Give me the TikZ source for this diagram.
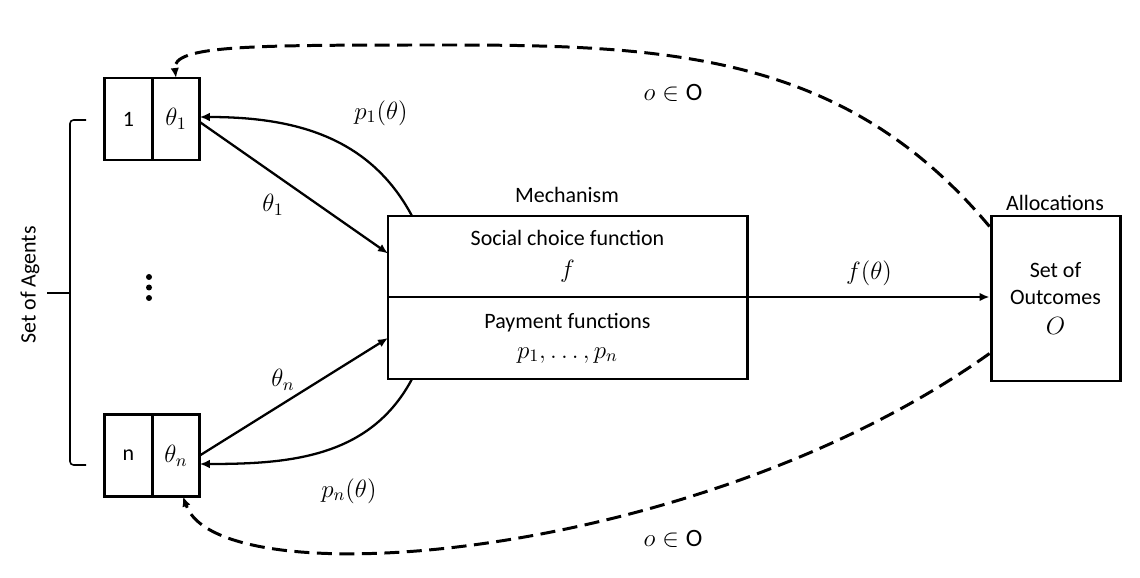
\RequirePackage{fix-cm}
\documentclass[tikz,border=0pt]{standalone}
\usepackage{amsmath,amssymb}
\usepackage{fontspec}
\setmainfont{Carlito}
\usetikzlibrary{positioning,arrows.meta,calc}

\newcommand{\mathlbl}[1]{{\fontsize{14.2}{16}\selectfont$#1$}}

\tikzset{
  cell/.style={draw, line width=1.7pt, minimum width=0.95cm, minimum height=1.64cm, inner sep=0pt, outer sep=0pt},
  mech/.style={draw, line width=1.7pt, minimum width=7.18cm, align=center, inner sep=0pt, outer sep=0pt},
  arr/.style={->, line width=1.3pt},
  dasharr/.style={->, line width=1.7pt, dash pattern=on 0.3cm off 0.15cm},
}

\begin{document}
\begin{tikzpicture}[font=\fontsize{12.5}{15}\selectfont, >={Latex[length=2mm,width=1.7mm]}]
\useasboundingbox (0,0) rectangle (22.8,11.54);
% agents
\node[cell] (c1) at (2.57,9.16) {1};
\node[cell, right=0pt of c1] (t1) {\mathlbl{\theta_1}};
\node[cell] (cn) at (2.57,2.43) {n};
\node[cell, right=0pt of cn] (tn) {\mathlbl{\theta_n}};
\foreach \y in {6.0,5.79,5.58} \fill (2.98,\y) circle (0.06);
% brace
\draw[line width=0.9pt, rounded corners=2pt] (1.72,9.14) -- (1.40,9.14) -- (1.40,2.24) -- (1.72,2.24);
\draw[line width=0.9pt] (0.94,5.68) -- (1.40,5.68);
\node[rotate=90] (agents) at (0.6,5.84) {Set of Agents};
% mechanism
\node (mechlbl) at (11.34,7.65) {Mechanism};
\node[mech, minimum height=1.62cm] (scf) at (11.35,6.41) {Social choice function\\[3pt]\mathlbl{f}};
\node[mech, minimum height=1.64cm, below=0pt of scf] (pay) {Payment functions\\[2pt]\mathlbl{p_1, \ldots, p_n}};
% outcomes
\node (alloclbl) at (21.1,7.48) {Allocations};
\node[draw, line width=1.7pt, minimum width=2.58cm, minimum height=3.3cm, align=center, inner sep=0pt] (out) at (21.11,5.57) {Set of\\Outcomes\\[2pt]\mathlbl{O}};
%
\draw[arr] ($(t1.east)+(0,-0.06)$) -- ($(scf.west)+(0,0.06)$);
\draw[arr] ($(scf.north west)+(0.48,0)$) to[out=118,in=0] ($(t1.east)+(0,0.04)$);
\draw[arr] (tn.east) -- (pay.west);
\draw[arr] ($(pay.south west)+(0.48,0)$) to[out=-118,in=0] ($(tn.east)+(0,-0.17)$);
\draw[arr] (scf.south east) -- (scf.south east -| out.west);
\node (lt1) at (5.46,7.44) {\mathlbl{\theta_1}};
\node (lp1) at (7.62,9.28) {\mathlbl{p_1(\theta)}};
\node (ltn) at (5.66,3.94) {\mathlbl{\theta_n}};
\node (lpn) at (6.98,1.72) {\mathlbl{p_n(\theta)}};
\node (lf) at (17.38,6.08) {\mathlbl{f(\theta)}};
%
\coordinate (otop) at (9.0,10.64);
\draw[dasharr] ($(out.north west)+(0,-0.24)$) .. controls (16.94,10.42) and (13.48,10.64) .. (otop) .. controls (5.0,10.64) and (3.44,10.64) .. (t1.north);
\draw[dasharr] ($(out.south west)+(0,0.58)$) .. controls (14.0,0.34) and (4.4,-0.46) .. ($(tn.south)+(0.14,0)$);
\node (lotop) at (13.46,9.68) {\mathlbl{o \in \mathrm{O}}};
\node (lobot) at (13.46,0.76) {\mathlbl{o \in \mathrm{O}}};
\end{tikzpicture}
\end{document}
